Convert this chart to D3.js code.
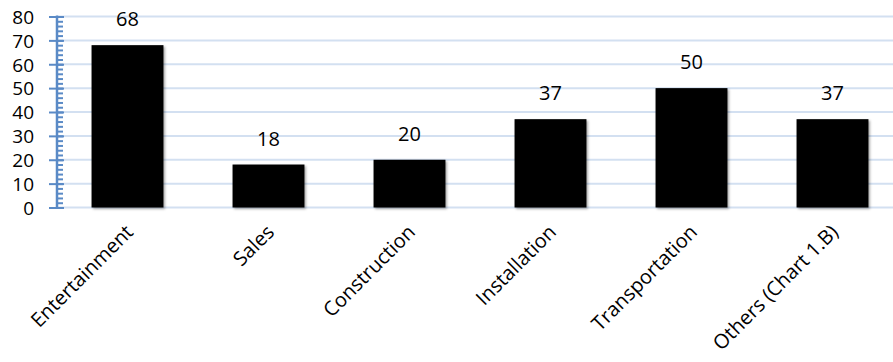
<!DOCTYPE html>
<html>
<head>
<meta charset="utf-8">
<script src="https://cdn.jsdelivr.net/npm/d3@7"></script>
<style>
  body { margin: 0; background: #fff; }
  text { font-family: "Open Sans", "Liberation Sans", sans-serif; fill: #000; }
</style>
</head>
<body>
<div id="chart"></div>
<script>
// Chart data
var categories = ["Entertainment", "Sales", "Construction", "Installation", "Transportation", "Others (Chart 1.B)"];
var values = [68, 18, 20, 37, 50, 37];
var yTicks = [0, 10, 20, 30, 40, 50, 60, 70, 80];

var W = 893, H = 362;
var plotLeft = 57, plotTop = 16.5, plotBottom = 207.5;

var svg = d3.select("#chart").append("svg")
    .attr("width", W)
    .attr("height", H);

// Soft shadow under the bars
var defs = svg.append("defs");
var f = defs.append("filter").attr("id", "shadow")
    .attr("x", "-10%").attr("y", "-10%").attr("width", "130%").attr("height", "130%");
f.append("feDropShadow")
    .attr("dx", 1.5).attr("dy", 1.5).attr("stdDeviation", 1.2)
    .attr("flood-color", "#000").attr("flood-opacity", 0.35);

var x = d3.scaleBand()
    .domain(categories)
    .range([plotLeft, plotLeft + 6 * 141])
    .paddingInner(0.49)
    .paddingOuter(0.245);

var y = d3.scaleLinear()
    .domain([0, 80])
    .range([plotBottom, plotTop]);

// Gridlines
svg.append("g").selectAll("line")
    .data(yTicks)
    .enter()
    .append("line")
    .attr("x1", plotLeft)
    .attr("x2", W)
    .attr("y1", d => y(d))
    .attr("y2", d => y(d))
    .attr("stroke", "#d3e0f1")
    .attr("stroke-width", 2);

// Bars
svg.append("g").selectAll("rect")
    .data(values)
    .enter()
    .append("rect")
    .attr("x", (d, i) => x(categories[i]))
    .attr("y", d => y(d))
    .attr("width", x.bandwidth())
    .attr("height", d => plotBottom - y(d))
    .attr("fill", "#000")
    .attr("filter", "url(#shadow)");

// Value labels
svg.append("g").selectAll("text")
    .data(values)
    .enter()
    .append("text")
    .attr("x", (d, i) => x(categories[i]) + x.bandwidth() / 2)
    .attr("y", d => y(d) - 19)
    .attr("text-anchor", "middle")
    .style("font-size", "20px")
    .text(d => d);

// Y axis with minor ticks
var axisColor = "#5a8ac6";
var minor = svg.append("g")
    .attr("transform", "translate(" + plotLeft + ",0)")
    .call(d3.axisRight(y).tickValues(d3.range(0, 81, 2)).tickSize(6).tickFormat(""));
minor.selectAll("line").attr("stroke", axisColor).attr("stroke-width", 2);
minor.select(".domain").remove();

var major = svg.append("g")
    .attr("transform", "translate(" + plotLeft + ",0)")
    .call(d3.axisLeft(y).tickValues(yTicks).tickSize(8).tickPadding(8));
major.selectAll(".tick line")
    .attr("x2", -8).attr("x1", 7)
    .attr("stroke", axisColor).attr("stroke-width", 2);
major.select(".domain").attr("stroke", axisColor).attr("stroke-width", 2.5)
    .attr("d", "M0," + (plotTop - 1) + "V" + (plotBottom + 1));
major.selectAll(".tick text")
    .attr("x", -23)
    .attr("dy", "0.36em")
    .style("font-size", "19px")
    .style("font-family", "'Open Sans', sans-serif")
    .attr("fill", "#000");

// Category labels, rotated
svg.append("g").selectAll("text")
    .data(categories)
    .enter()
    .append("text")
    .attr("transform", d => "translate(" + (x(d) + x.bandwidth() / 2 - 3) + "," + (plotBottom + 16) + ") rotate(-45)")
    .attr("text-anchor", "end")
    .attr("dy", "0.7em")
    .style("font-size", "20px")
    .text(d => d);
</script>
</body>
</html>
